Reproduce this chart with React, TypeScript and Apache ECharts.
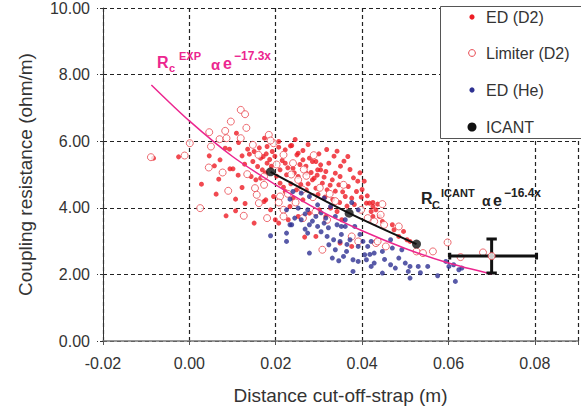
import React, { useEffect, useRef } from "react";
import * as echarts from "echarts";

// ---- data ----
const edD2: [number, number][] = [
  [-0.0083, 5.49], [-0.0025, 5.53], [0.0028, 4.71], [0.0046, 5.56], [0.0058, 5.26], [0.0062, 4.41],
  [0.0068, 4.86], [0.0083, 5.79], [0.0093, 5.76], [0.0085, 3.76], [0.0071, 5.44], [0.0094, 5.17],
  [0.0101, 5.17], [0.0113, 4.98], [0.0107, 3.91], [0.0107, 4.26], [0.0122, 4.61], [0.0129, 4.13],
  [0.0109, 6.24], [0.0114, 5.96], [0.0122, 5.56], [0.0135, 5.76], [0.0147, 5.39], [0.0139, 5.61],
  [0.0128, 5.31], [0.0143, 4.94], [0.0154, 4.84], [0.0165, 4.89], [0.015, 3.54], [0.0174, 6.09],
  [0.0165, 5.49], [0.015, 5.69], [0.0158, 5.24], [0.0169, 5.14], [0.0173, 4.19],
  [0.018, 5.84], [0.0171, 5.54], [0.018, 5.34], [0.0192, 5.69], [0.0207, 5.82], [0.0222, 5.74],
  [0.0237, 5.87], [0.0249, 5.59], [0.0263, 5.72], [0.0263, 5.44], [0.0278, 5.49], [0.0285, 5.39],
  [0.0304, 5.29], [0.0323, 5.34], [0.0367, 5.54], [0.0297, 5.14], [0.0316, 5.09], [0.0338, 5.04],
  [0.0349, 4.94], [0.0331, 4.84], [0.021, 5.14], [0.0225, 4.99], [0.024, 5.19], [0.0252, 4.94],
  [0.0271, 5.04], [0.0285, 4.84], [0.0308, 4.74], [0.0319, 4.54], [0.0346, 4.69], [0.0368, 4.64],
  [0.0387, 4.49], [0.0361, 4.34], [0.0376, 4.29], [0.041, 4.14], [0.0425, 4.04], [0.0425, 3.74],
  [0.021, 4.74], [0.0222, 4.49], [0.0248, 4.54], [0.0271, 4.54], [0.0293, 4.59], [0.0177, 4.24],
  [0.0188, 3.94], [0.0199, 3.64], [0.0233, 4.04], [0.0229, 3.64], [0.0252, 3.74], [0.0278, 3.84],
  [0.0301, 3.94], [0.0316, 3.74], [0.0327, 3.99], [0.0342, 3.89], [0.0353, 3.64], [0.0195, 4.34],
  [0.024, 4.29], [0.0263, 4.24],
  [0.0207, 5.99], [0.0234, 5.86], [0.0252, 5.64], [0.0293, 5.39], [0.0304, 5.14], [0.0289, 4.89],
  [0.0222, 5.34], [0.0162, 5.8], [0.0178, 5.62], [0.0186, 5.45], [0.0176, 5.05], [0.019, 5.25],
  [0.03, 5.62], [0.0335, 5.55], [0.035, 5.25], [0.039, 4.8], [0.04, 4.55], [0.038, 4.9],
  [0.0207, 3.54], [0.0267, 3.12], [0.0293, 3.14], [0.0349, 2.94], [0.0376, 2.84],
  [0.0417, 4.14], [0.0425, 4.16], [0.0436, 4.11], [0.0421, 3.89], [0.044, 3.74], [0.0447, 3.59],
  [0.047, 3.49], [0.0474, 3.34], [0.0496, 3.29], [0.0485, 3.14], [0.0504, 3.04], [0.0511, 2.99],
  [0.0198, 5.55], [0.0215, 5.42], [0.0228, 5.2], [0.0243, 5.05], [0.0256, 5.3], [0.027, 5.25],
  [0.0282, 5.06], [0.0296, 4.98], [0.0312, 4.92], [0.0326, 4.68], [0.0338, 4.5], [0.0355, 4.48],
  [0.0202, 4.95], [0.0218, 4.62], [0.0235, 4.72], [0.0258, 4.7], [0.0275, 4.72], [0.0298, 4.4],
  [0.0314, 4.32], [0.0332, 4.25], [0.0348, 4.16], [0.0365, 4.05], [0.0382, 4.1], [0.0398, 4.32],
  [0.0412, 4.36], [0.0432, 3.94], [0.0245, 6.05], [0.0275, 5.9], [0.0318, 5.75], [0.0342, 5.7],
  [0.0358, 5.4], [0.0372, 5.15], [0.0395, 5.05], [0.0405, 4.8],
];

const limiterD2: [number, number][] = [
  [-0.0089, 5.52], [-0.0011, 5.57], [0.0001, 5.94], [0.0025, 3.99], [0.0046, 6.27], [0.005, 5.84],
  [0.0045, 5.21], [0.007, 6.06], [0.0083, 6.31], [0.0096, 6.59], [0.0086, 6.09], [0.0077, 5.06],
  [0.009, 4.51], [0.0119, 6.94], [0.0129, 6.81], [0.0132, 6.4], [0.0119, 6.09], [0.0126, 3.76],
  [0.0134, 5.01], [0.0152, 4.59], [0.0161, 4.14], [0.0156, 4.39], [0.0173, 4.69], [0.0147, 5.89],
  [0.016, 5.59],
  [0.0184, 6.19], [0.0195, 5.94], [0.0218, 5.59], [0.024, 5.34], [0.0173, 4.94], [0.0357, 4.69],
  [0.018, 3.69], [0.021, 4.34], [0.0218, 3.94], [0.0319, 3.64], [0.0413, 3.69], [0.0428, 3.59],
  [0.0398, 3.94], [0.0188, 6.02], [0.0271, 4.96], [0.0252, 4.84], [0.0207, 4.16],
  [0.0308, 2.74], [0.0376, 3.14], [0.0391, 2.99], [0.0432, 2.94], [0.0218, 3.74], [0.0263, 3.69],
  [0.0447, 4.11], [0.0443, 3.79], [0.0451, 3.49], [0.0485, 3.44], [0.0436, 2.99], [0.0455, 2.84],
  [0.0526, 2.69], [0.0541, 2.64], [0.0564, 2.69], [0.0598, 2.96], [0.0628, 2.52], [0.068, 2.66],
  [0.07, 2.55],
  [0.0228, 4.42], [0.0262, 4.55], [0.0286, 4.32], [0.0302, 4.6], [0.0325, 4.42], [0.0236, 5.0],
  [0.0202, 5.3], [0.0265, 5.15], [0.0288, 5.58], [0.0246, 4.16], [0.0292, 3.88], [0.0338, 4.2],
];

const edHe: [number, number][] = [
  [0.024, 4.49], [0.0259, 4.44], [0.0278, 4.34], [0.0312, 4.29], [0.0233, 4.26], [0.0297, 4.09],
  [0.0327, 4.04], [0.0376, 4.16], [0.0391, 3.94], [0.0225, 3.94], [0.0252, 3.99], [0.0274, 3.94],
  [0.0244, 3.69], [0.0259, 3.64], [0.0293, 3.74], [0.0338, 3.74], [0.0233, 3.49], [0.0278, 3.49],
  [0.0312, 3.54], [0.0361, 3.44],
  [0.0188, 3.16], [0.0225, 3.24], [0.0225, 2.99], [0.0237, 3.49], [0.0278, 2.64], [0.0274, 3.24],
  [0.0297, 3.44], [0.0316, 3.69], [0.0319, 3.14], [0.0323, 2.89], [0.0334, 3.04], [0.0338, 2.74],
  [0.0342, 3.49], [0.0331, 2.49], [0.0346, 2.41], [0.0357, 2.54], [0.0349, 2.99], [0.0364, 2.69],
  [0.0379, 2.44], [0.0391, 2.84], [0.0391, 2.39], [0.0406, 2.59], [0.041, 2.44], [0.0413, 2.84],
  [0.0402, 2.99], [0.0379, 2.09], [0.0421, 2.99], [0.0361, 3.64], [0.0383, 3.44], [0.0372, 3.04],
  [0.0352, 3.44],
  [0.0428, 2.64], [0.0447, 2.69], [0.0466, 3.04], [0.047, 2.79], [0.0485, 2.49], [0.0428, 2.34],
  [0.0466, 2.29], [0.0477, 2.19], [0.05, 2.34], [0.0511, 2.24], [0.0507, 2.09], [0.0511, 1.89],
  [0.053, 2.24], [0.0552, 2.24], [0.0447, 2.04], [0.0575, 1.96], [0.0594, 2.39], [0.0612, 2.29],
  [0.0631, 2.19], [0.0616, 1.79], [0.0601, 2.24], [0.0624, 2.14], [0.0492, 2.74], [0.0421, 2.24],
  [0.0268, 3.82], [0.0285, 3.6], [0.0305, 3.85], [0.0322, 3.4], [0.0268, 3.36], [0.0305, 3.28],
  [0.0352, 3.2], [0.0365, 2.9], [0.0395, 3.2], [0.0418, 2.6], [0.0452, 2.45], [0.0535, 2.05],
];

const icant: [number, number][] = [
  [0.0188, 5.08], [0.037, 3.84], [0.0526, 2.91],
];

const expFit: [number, number][] = [
  [-0.0088, 7.69], [0.0, 6.61], [0.01, 5.54], [0.02, 4.69], [0.03, 3.93],
  [0.04, 3.31], [0.05, 2.78], [0.06, 2.34], [0.07, 2.01],
];

const errCenter: [number, number] = [0.07, 2.55];
const errX: [number, number] = [0.0603, 0.0804];
const errY: [number, number] = [2.04, 3.06];

const yTicks = [0, 2, 4, 6, 8, 10];
const xTickStep = 0.02;

const FONT = "Liberation Sans, Arial, sans-serif";
const RED = "#ed1c24";
const RED_OPEN = "#e8474f";
const BLUE = "#2e3192";
const PINK = "#ec268f";

export default function App() {
  const ref = useRef<HTMLDivElement>(null);

  useEffect(() => {
    if (!ref.current) return;
    const chart = echarts.init(ref.current, null, { renderer: "svg" });

    const capDx = 0.0012;
    const capDy = 0.1;
    const errSeries = [
      [[errX[0], errCenter[1]], [errX[1], errCenter[1]]],
      [[errCenter[0], errY[0]], [errCenter[0], errY[1]]],
      [[errX[0], errCenter[1] - capDy], [errX[0], errCenter[1] + capDy]],
      [[errX[1], errCenter[1] - capDy], [errX[1], errCenter[1] + capDy]],
      [[errCenter[0] - capDx, errY[0]], [errCenter[0] + capDx, errY[0]]],
      [[errCenter[0] - capDx, errY[1]], [errCenter[0] + capDx, errY[1]]],
    ].map((d) => ({
      type: "line",
      data: d,
      symbol: "none",
      lineStyle: { color: "#111", width: 3 },
      z: 6,
      silent: true,
    }));

    const legendItems = [
      { label: "ED (D2)", y: 17, r: 2.6, fill: RED, stroke: null },
      { label: "Limiter (D2)", y: 53, r: 3.4, fill: "#fff", stroke: RED_OPEN },
      { label: "ED (He)", y: 90, r: 2.6, fill: BLUE, stroke: null },
      { label: "ICANT", y: 127, r: 4.5, fill: "#111", stroke: null },
    ];

    const graphics: any[] = [
      {
        type: "rect",
        z: 100,
        shape: { x: 440.5, y: 6.5, width: 160, height: 132 },
        style: { fill: "#fff", stroke: "#555", lineWidth: 1 },
      },
    ];
    legendItems.forEach((it) => {
      graphics.push({
        type: "circle",
        z: 101,
        shape: { cx: 472, cy: it.y, r: it.r },
        style: it.stroke
          ? { fill: "#fff", stroke: it.stroke, lineWidth: 1 }
          : { fill: it.fill },
      });
      graphics.push({
        type: "text",
        z: 101,
        x: 486,
        y: it.y,
        style: {
          text: it.label,
          font: `16px ${FONT}`,
          fill: "#333",
          verticalAlign: "middle",
          align: "left",
        },
      });
    });

    const txt = (t: string, x: number, y: number, size: number, color: string, weight = "bold") => ({
      type: "text",
      z: 50,
      x,
      y,
      style: {
        text: t,
        font: `${weight} ${size}px ${FONT}`,
        fill: color,
        verticalAlign: "middle",
        align: "left",
      },
    });

    // R_c^EXP α e^-17.3x
    graphics.push(txt("R", 157, 62, 16, PINK));
    graphics.push(txt("c", 169, 68, 11, PINK));
    graphics.push(txt("EXP", 179, 56, 11, PINK));
    graphics.push(txt("α", 211, 64, 15, PINK));
    graphics.push(txt("e", 223, 63, 16, PINK));
    graphics.push(txt("−17.3x", 234, 56, 12, PINK));

    // R_C^ICANT α e^-16.4x
    graphics.push(txt("R", 421, 198, 16, "#222"));
    graphics.push(txt("C", 432, 205, 11, "#222"));
    graphics.push(txt("ICANT", 441, 193, 11, "#222"));
    graphics.push(txt("α", 482, 201, 14, "#222"));
    graphics.push(txt("e", 493, 200, 16, "#222"));
    graphics.push(txt("−16.4x", 504, 193, 12, "#222"));

    const option: any = {
      animation: false,
      backgroundColor: "#fff",
      grid: { left: 103, right: -10, top: 8, bottom: 69, containLabel: false },
      xAxis: {
        type: "value",
        min: -0.02,
        max: 0.09,
        interval: xTickStep,
        name: "Distance cut-off-strap (m)",
        nameLocation: "middle",
        nameGap: 45,
        nameTextStyle: { fontFamily: FONT, fontSize: 19, color: "#333" },
        axisLine: { show: true, onZero: false, lineStyle: { color: "#777", width: 1.5 } },
        axisTick: { show: true, length: 4, lineStyle: { color: "#555" } },
        axisLabel: {
          fontFamily: FONT,
          fontSize: 16,
          color: "#333",
          margin: 14,
          formatter: (v: number) => {
            const k = Math.round(v / xTickStep);
            if (Math.abs(v - k * xTickStep) > 1e-9 || v > 0.0801) return "";
            return (k * xTickStep).toFixed(2);
          },
        },
        splitLine: { show: true, lineStyle: { color: "#222", type: [4, 3], width: 1.2 } },
      },
      yAxis: {
        type: "value",
        min: yTicks[0],
        max: yTicks[yTicks.length - 1],
        interval: 2,
        name: "Coupling resistance (ohm/m)",
        nameLocation: "middle",
        nameGap: 68,
        nameTextStyle: { fontFamily: FONT, fontSize: 19, color: "#333" },
        axisLine: { show: true, onZero: false, lineStyle: { color: "#333", width: 1 } },
        axisTick: { show: true, length: 6, lineStyle: { color: "#333", type: [3, 2] } },
        axisLabel: {
          fontFamily: FONT,
          fontSize: 16,
          color: "#333",
          margin: 13,
          formatter: (v: number) => v.toFixed(2),
        },
        splitLine: { show: true, lineStyle: { color: "#222", type: [4, 3], width: 1.2 } },
      },
      graphic: graphics,
      series: [
        {
          name: "ED (D2)",
          type: "scatter",
          data: edD2,
          symbol: "circle",
          symbolSize: 5,
          itemStyle: { color: RED },
          z: 2,
        },
        {
          name: "Limiter (D2)",
          type: "scatter",
          data: limiterD2,
          symbol: "circle",
          symbolSize: 7,
          itemStyle: { color: "#fff", borderColor: RED_OPEN, borderWidth: 1 },
          z: 3,
        },
        {
          name: "ED (He)",
          type: "scatter",
          data: edHe,
          symbol: "circle",
          symbolSize: 5,
          itemStyle: { color: BLUE },
          z: 4,
        },
        {
          name: "fit",
          type: "line",
          data: expFit,
          symbol: "none",
          smooth: 0.3,
          lineStyle: { color: PINK, width: 1.5 },
          z: 5,
        },
        {
          name: "ICANT fit",
          type: "line",
          data: icant,
          symbol: "none",
          smooth: 0.3,
          lineStyle: { color: "#111", width: 2 },
          z: 5,
        },
        ...errSeries,
        {
          name: "ICANT",
          type: "scatter",
          data: icant,
          symbol: "circle",
          symbolSize: 9,
          itemStyle: { color: "#111" },
          z: 7,
        },
        {
          name: "errCenter",
          type: "scatter",
          data: [errCenter],
          symbol: "circle",
          symbolSize: 7,
          itemStyle: { color: "#fff", borderColor: RED_OPEN, borderWidth: 1 },
          z: 8,
        },
      ],
    };

    chart.setOption(option);
    return () => chart.dispose();
  }, []);

  return (
    <div
      ref={ref}
      style={{ position: "fixed", left: 0, top: 0, width: 581, height: 410, background: "#fff" }}
    />
  );
}
